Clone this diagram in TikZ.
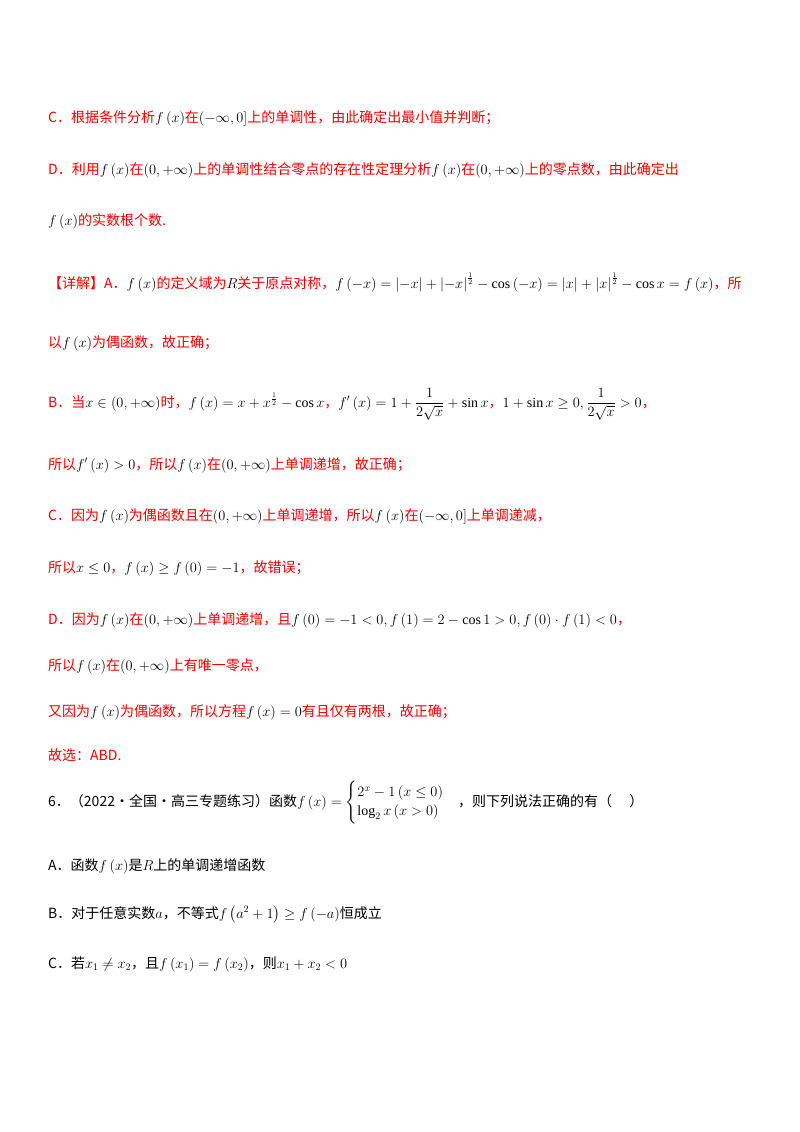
\documentclass[tikz,border=0pt]{standalone}
\usepackage{amsmath}
\usepackage{fontspec}
\setmainfont{Liberation Serif}
\newfontfamily\cjk{Noto Sans CJK SC}
\definecolor{ansred}{RGB}{240,0,0}
\newcommand{\mth}[1]{\textcolor{black}{$#1$}}
\begin{document}
\begin{tikzpicture}[x=1pt,y=-1pt,
  ln/.style={anchor=base west,inner sep=0pt,font=\fontsize{14}{16}\selectfont\cjk,text=ansred},
  bl/.style={ln,text=black}]
\useasboundingbox (0,0) rectangle (800,1132);
\node[ln] (l1) at (48,122) {C．根据条件分析\mth{f\left(x\right)}在\mth{\left(-\infty,0\right]}上的单调性，由此确定出最小值并判断；};
\node[ln] (l2) at (48,174) {D．利用\mth{f\left(x\right)}在\mth{\left(0,+\infty\right)}上的单调性结合零点的存在性定理分析\mth{f\left(x\right)}在\mth{\left(0,+\infty\right)}上的零点数，由此确定出};
\node[ln] (l3) at (48,225) {\mth{f\left(x\right)}的实数根个数.};
\node[ln] (l4) at (48,288) {【详解】A．\mth{f\left(x\right)}的定义域为\mth{R}关于原点对称，\mth{f\left(-x\right)=\left|-x\right|+\left|-x\right|^{\frac12}-\cos\left(-x\right)=\left|x\right|+\left|x\right|^{\frac12}-\cos x=f\left(x\right)}，所};
\node[ln] (l5) at (48,347) {以\mth{f\left(x\right)}为偶函数，故正确；};
\node[ln] (l6) at (48,407) {B．当\mth{x\in\left(0,+\infty\right)}时，\mth{f\left(x\right)=x+x^{\frac12}-\cos x}，\mth{f'\left(x\right)=1+\dfrac{1}{2\sqrt{x}}+\sin x}，\mth{1+\sin x\ge0,\dfrac{1}{2\sqrt{x}}>0}，};
\node[ln] (l7) at (48,469) {所以\mth{f'\left(x\right)>0}，所以\mth{f\left(x\right)}在\mth{\left(0,+\infty\right)}上单调递增，故正确；};
\node[ln] (l8) at (48,520) {C．因为\mth{f\left(x\right)}为偶函数且在\mth{\left(0,+\infty\right)}上单调递增，所以\mth{f\left(x\right)}在\mth{\left(-\infty,0\right]}上单调递减，};
\node[ln] (l9) at (48,572) {所以\mth{x\le0}，\mth{f\left(x\right)\ge f\left(0\right)=-1}，故错误；};
\node[ln] (l10) at (48,624) {D．因为\mth{f\left(x\right)}在\mth{\left(0,+\infty\right)}上单调递增，且\mth{f\left(0\right)=-1<0,f\left(1\right)=2-\cos1>0,f\left(0\right)\cdot f\left(1\right)<0}，};
\node[ln] (l11) at (48,670) {所以\mth{f\left(x\right)}在\mth{\left(0,+\infty\right)}上有唯一零点，};
\node[ln] (l12) at (48,716) {又因为\mth{f\left(x\right)}为偶函数，所以方程\mth{f\left(x\right)=0}有且仅有两根，故正确；};
\node[ln] (l13) at (48,760) {故选：ABD.};
\node[bl] (q6) at (48,806) {6．（2022·全国·高三专题练习）函数\mth{f\left(x\right)=\begin{cases}2^x-1\left(x\le0\right)\\ \log_2x\left(x>0\right)\end{cases}}，则下列说法正确的有（\quad\ ）};
\node[bl] (qa) at (48,870) {A．函数\mth{f\left(x\right)}是\mth{R}上的单调递增函数};
\node[bl] (qb) at (48,918) {B．对于任意实数\mth{a}，不等式\mth{f\left(a^2+1\right)\ge f\left(-a\right)}恒成立};
\node[bl] (qc) at (48,968) {C．若\mth{x_1\ne x_2}，且\mth{f\left(x_1\right)=f\left(x_2\right)}，则\mth{x_1+x_2<0}};
\end{tikzpicture}
\end{document}
